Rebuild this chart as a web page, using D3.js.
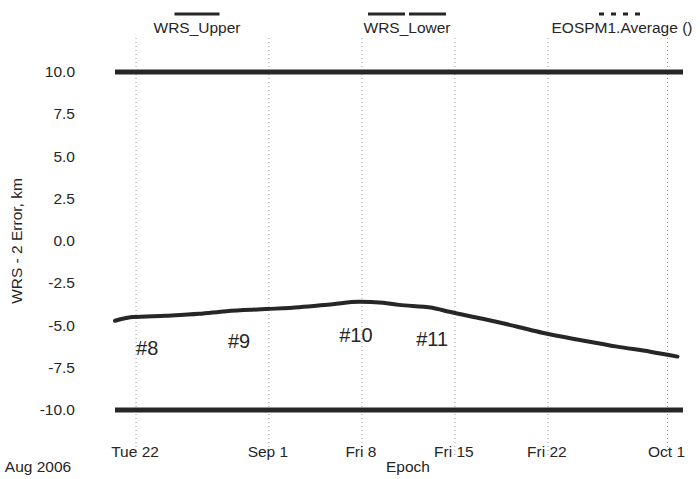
<!DOCTYPE html>
<html>
<head>
<meta charset="utf-8">
<script src="https://cdn.jsdelivr.net/npm/d3@7"></script>
<style>
  body { margin: 0; background: #fff; }
  svg { font-family: "Liberation Sans", Arial, Helvetica, sans-serif; }
</style>
</head>
<body>
<svg width="700" height="479"></svg>
<script>
'use strict';

// EOSPM1 average WRS-2 error, km
const epochs = [
  "2006-08-20T10:00", "2006-08-21T17:00", "2006-08-24T06:00", "2006-08-26T18:00",
  "2006-08-28T19:00", "2006-08-31T19:00", "2006-09-03T07:00", "2006-09-05T19:00",
  "2006-09-07T19:00", "2006-09-09T14:00", "2006-09-10T19:00", "2006-09-13T07:00",
  "2006-09-14T14:00", "2006-09-17T02:00", "2006-09-19T17:00", "2006-09-21T14:00",
  "2006-09-24T17:00", "2006-09-27T05:00", "2006-09-29T17:00", "2006-10-01T18:00"
];
const average = [
  -4.72, -4.50, -4.42, -4.31, -4.15, -4.03, -3.92, -3.74, -3.60, -3.66,
  -3.78, -3.95, -4.19, -4.60, -5.07, -5.43, -5.90, -6.25, -6.55, -6.84
];

// bounds
const boundEpochs = ["2006-08-20T10:00", "2006-10-02T04:00"];
const wrsUpper = [10, 10];
const wrsLower = [-10, -10];

const xTickDates = ["2006-08-22", "2006-09-01", "2006-09-08", "2006-09-15", "2006-09-22", "2006-10-01"];
const xTickLabels = ["Tue 22", "Sep 1", "Fri 8", "Fri 15", "Fri 22", "Oct 1"];
const yTicks = [10, 7.5, 5, 2.5, 0, -2.5, -5, -7.5, -10];

const passLabels = ["#8", "#9", "#10", "#11"];
const passEpochs = ["2006-08-22T00:00", "2006-08-28T22:00", "2006-09-06T07:00", "2006-09-12T02:00"];
const passValues = [-6.75, -6.33, -5.98, -6.2];

const legendNames = ["WRS_Upper", "WRS_Lower", "EOSPM1.Average ()"];

const parse = d3.isoParse;
const svg = d3.select("svg");
const ink = "#262626";
const fs = 15.5;

const x = d3.scaleTime()
  .domain(boundEpochs.map(parse))
  .range([115, 683]);

const y = d3.scaleLinear()
  .domain([-10, 10])
  .range([410, 72]);

// vertical dotted grid
svg.append("g")
  .selectAll("line")
  .data(xTickDates.map(parse))
  .join("line")
    .attr("x1", d => x(d))
    .attr("x2", d => x(d))
    .attr("y1", 38)
    .attr("y2", 458)
    .attr("stroke", "#999")
    .attr("stroke-width", 1)
    .attr("stroke-dasharray", "1,3");

// x tick labels
svg.append("g")
  .selectAll("text")
  .data(xTickDates)
  .join("text")
    .attr("x", d => x(parse(d)) - 1)
    .attr("y", 457)
    .attr("text-anchor", "middle")
    .attr("font-size", fs)
    .attr("fill", ink)
    .text((d, i) => xTickLabels[i]);

svg.append("text")
  .attr("x", 38)
  .attr("y", 472)
  .attr("text-anchor", "middle")
  .attr("font-size", fs)
  .attr("fill", ink)
  .text("Aug 2006");

svg.append("text")
  .attr("x", 408)
  .attr("y", 472)
  .attr("text-anchor", "middle")
  .attr("font-size", fs)
  .attr("fill", ink)
  .text("Epoch");

// y tick labels (plain hyphen for negatives, as in the original)
const fmt = d => d3.format(".1f")(d).replace("\u2212", "-");
svg.append("g")
  .selectAll("text")
  .data(yTicks)
  .join("text")
    .attr("x", 75)
    .attr("y", d => y(d) + 5)
    .attr("text-anchor", "end")
    .attr("font-size", fs)
    .attr("fill", ink)
    .text(fmt);

svg.append("text")
  .attr("transform", `translate(22,${y(0)}) rotate(-90)`)
  .attr("text-anchor", "middle")
  .attr("font-size", fs)
  .attr("fill", ink)
  .text("WRS - 2 Error, km");

// series
const line = d3.line()
  .x(d => x(d[0]))
  .y(d => y(d[1]));

const bounds = [wrsUpper, wrsLower];
svg.append("g")
  .selectAll("path")
  .data(bounds)
  .join("path")
    .attr("d", vals => line(vals.map((v, i) => [parse(boundEpochs[i]), v])))
    .attr("fill", "none")
    .attr("stroke", ink)
    .attr("stroke-width", 5);

svg.append("path")
  .attr("d", line.curve(d3.curveMonotoneX)(average.map((v, i) => [parse(epochs[i]), v])))
  .attr("fill", "none")
  .attr("stroke", ink)
  .attr("stroke-width", 4)
  .attr("stroke-linecap", "round");

// pass annotations
svg.append("g")
  .selectAll("text")
  .data(passLabels)
  .join("text")
    .attr("x", (d, i) => x(parse(passEpochs[i])))
    .attr("y", (d, i) => y(passValues[i]))
    .attr("font-size", 20)
    .attr("fill", ink)
    .text(d => d);

// legend
const legendX = [197, 407, 622];
const legendDash = [null, "37,4", "5,7"];
const legendW = [45, 78, 46];
const legend = svg.append("g")
  .selectAll("g")
  .data(legendNames)
  .join("g")
    .attr("transform", (d, i) => `translate(${legendX[i]},0)`);

legend.append("line")
  .attr("x1", (d, i) => -legendW[i] / 2)
  .attr("x2", (d, i) => legendW[i] / 2)
  .attr("y1", 14)
  .attr("y2", 14)
  .attr("stroke", ink)
  .attr("stroke-width", 3)
  .attr("stroke-dasharray", (d, i) => legendDash[i]);

legend.append("text")
  .attr("y", 33)
  .attr("text-anchor", "middle")
  .attr("font-size", fs)
  .attr("fill", ink)
  .text(d => d);
</script>
</body>
</html>
